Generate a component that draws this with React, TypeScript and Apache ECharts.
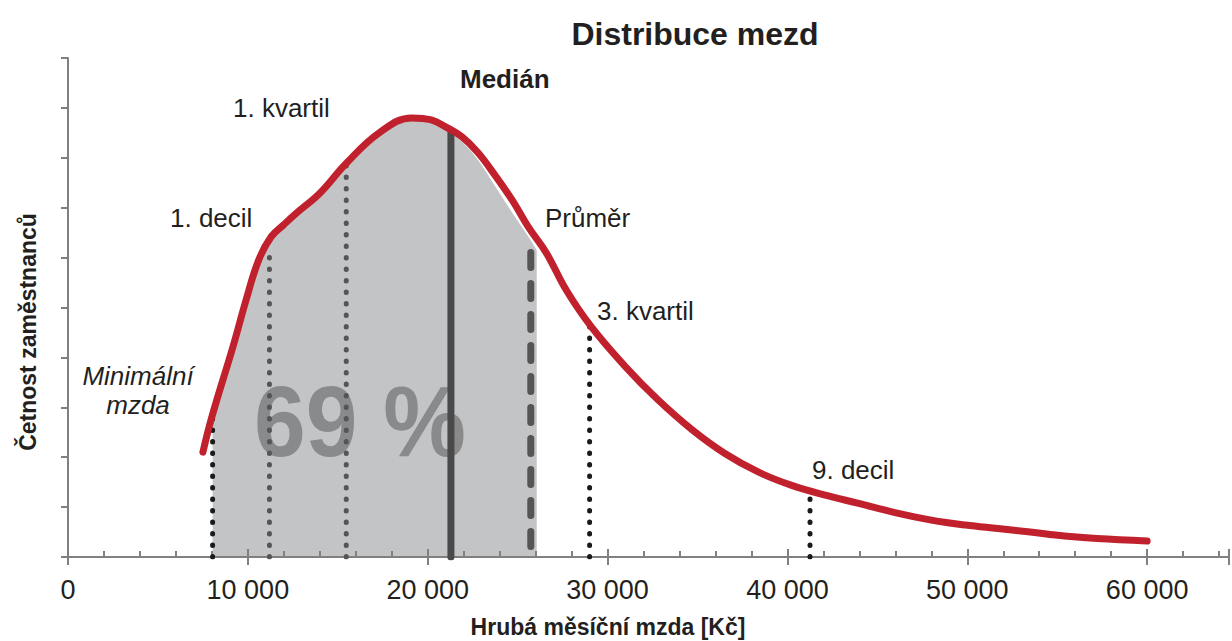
import React, { useEffect, useRef } from "react";
import * as echarts from "echarts";

// ---- data ----
const curveX = [7500, 8000, 9200, 9900, 10600, 11300, 12000, 12700, 14000, 15500, 17300, 19100, 20200, 21000, 21900, 22800, 23800, 24700, 25600, 26600, 27700, 29100, 31000, 32800, 34700, 36500, 38400, 40200, 42100, 43900, 46100, 48000, 49900, 51700, 53500, 55400, 57200, 60000];
const curveY = [2.10, 2.81, 4.25, 5.15, 5.95, 6.42, 6.66, 6.89, 7.29, 7.90, 8.50, 8.80, 8.76, 8.62, 8.42, 8.10, 7.62, 7.15, 6.61, 6.09, 5.35, 4.61, 3.81, 3.15, 2.55, 2.08, 1.70, 1.44, 1.24, 1.08, 0.88, 0.74, 0.64, 0.57, 0.50, 0.42, 0.37, 0.32];

const fillX = [8040, 9200, 9900, 10600, 11300, 12000, 12700, 14000, 15500, 17300, 19100, 20200, 21000, 21900, 22800, 23800, 24700, 25600, 26060];
const fillY = [2.81, 4.25, 5.15, 5.95, 6.42, 6.66, 6.89, 7.29, 7.90, 8.50, 8.80, 8.76, 8.58, 8.32, 7.95, 7.40, 6.90, 6.42, 6.15];

const markerNames = ["Minimální mzda", "1. decil", "1. kvartil", "Medián", "Průměr", "3. kvartil", "9. decil"];
const markerX = [8040, 11200, 15470, 21290, 25730, 29000, 41255];
const markerTop = [2.79, 6.05, 7.9, 8.53, 6.10, 4.65, 1.18];

const xTickLabels = ["0", "10 000", "20 000", "30 000", "40 000", "50 000", "60 000"];
const shareLabel = "69 %";

const FONT = "'Liberation Sans', Arial, Helvetica, sans-serif";
const TXT = "#231f20";
const AXIS = "#808080";
const X_MAX = 64550;

function markerStyle(name: string) {
  switch (name) {
    case "Medián":
      return { color: "#4a4a4a", width: 7, type: "solid" as any, cap: "round" };
    case "Průměr":
      return { color: "#555555", width: 7, type: [15, 16], cap: "round" };
    case "1. decil":
    case "1. kvartil":
      return { color: "#555555", width: 5, type: [0.5, 11], cap: "round" };
    default:
      return { color: "#1a1a1a", width: 5, type: [0.5, 11], cap: "round" };
  }
}

export default function App() {
  const ref = useRef<HTMLDivElement>(null);
  useEffect(() => {
    if (!ref.current) return;
    const chart = echarts.init(ref.current, undefined, { renderer: "svg" });

    const baseX = { type: "value", min: 0, max: X_MAX, position: "bottom", gridIndex: 0, splitLine: { show: false }, z: 3 };

    const markerSeries = markerNames.map((n, i) => ({
      type: "line",
      name: n,
      data: n === "Průměr"
        ? [[markerX[i], markerTop[i]], [markerX[i], 0]]
        : [[markerX[i], 0], [markerX[i], markerTop[i]]],
      showSymbol: false,
      symbol: "none",
      lineStyle: markerStyle(n),
      z: 4,
      silent: true,
    }));

    const option: any = {
      animation: false,
      backgroundColor: "#ffffff",
      textStyle: { fontFamily: FONT },
      title: {
        text: "Distribuce mezd",
        left: 690,
        top: 13,
        textAlign: "center",
        textStyle: { fontFamily: FONT, fontSize: 32, fontWeight: "bold", color: TXT },
      },
      grid: { left: 68, right: 0, top: 58, bottom: 84, containLabel: false },
      xAxis: [
        {
          ...baseX,
          interval: 2000,
          axisLine: { show: true, lineStyle: { color: AXIS, width: 2 } },
          axisTick: { show: true, inside: true, length: 6, lineStyle: { color: AXIS, width: 2 } },
          axisLabel: { show: false },
        },
        {
          ...baseX,
          interval: 10000,
          axisLine: { show: false },
          axisTick: { show: true, inside: true, length: 8, lineStyle: { color: AXIS, width: 2 } },
          axisLabel: { show: false },
        },
        {
          ...baseX,
          interval: 10000,
          axisLine: { show: false },
          axisTick: { show: true, inside: false, length: 8, lineStyle: { color: AXIS, width: 2 } },
          axisLabel: {
            show: true,
            margin: 19,
            fontSize: 27,
            color: TXT,
            fontFamily: FONT,
            formatter: (v: number) => {
              if (v % 10000 !== 0) return "";
              return xTickLabels[v / 10000] ?? "";
            },
          },
        },
      ],
      yAxis: {
        type: "value",
        min: 0,
        max: 10,
        interval: 1,
        z: 3,
        axisLine: { show: true, lineStyle: { color: AXIS, width: 2 } },
        axisTick: { show: true, inside: false, length: 7, lineStyle: { color: AXIS, width: 2 } },
        axisLabel: { show: false },
        splitLine: { show: false },
      },
      series: [
        {
          type: "line",
          name: "fill",
          data: fillX.map((x, i) => [x, fillY[i]]),
          smooth: 0.4,
          showSymbol: false,
          symbol: "none",
          lineStyle: { width: 0, opacity: 0 },
          areaStyle: { color: "#c3c4c6", opacity: 1 },
          z: 1,
          silent: true,
        },
        ...markerSeries,
        {
          type: "line",
          name: "curve",
          data: curveX.map((x, i) => [x, curveY[i]]),
          smooth: 0.4,
          showSymbol: false,
          symbol: "none",
          lineStyle: { color: "#c0212c", width: 7, cap: "round", join: "round" },
          z: 5,
          silent: true,
        },
      ],
      graphic: [
        { type: "text", z: 2, x: 360, y: 421, scaleX: 0.93, style: { text: shareLabel, fill: "#898a8c", font: `bold 100px ${FONT}`, align: "center", verticalAlign: "middle" } },
        { type: "text", z: 6, x: 138, y: 376, style: { text: "Minimální", fill: TXT, font: `italic 26px ${FONT}`, align: "center", verticalAlign: "middle" } },
        { type: "text", z: 6, x: 138, y: 405, style: { text: "mzda", fill: TXT, font: `italic 26px ${FONT}`, align: "center", verticalAlign: "middle" } },
        { type: "text", z: 6, x: 170, y: 218, style: { text: "1. decil", fill: TXT, font: `26px ${FONT}`, align: "left", verticalAlign: "middle" } },
        { type: "text", z: 6, x: 233, y: 108, style: { text: "1. kvartil", fill: TXT, font: `26px ${FONT}`, align: "left", verticalAlign: "middle" } },
        { type: "text", z: 6, x: 460, y: 79, style: { text: "Medián", fill: TXT, font: `bold 26px ${FONT}`, align: "left", verticalAlign: "middle" } },
        { type: "text", z: 6, x: 545, y: 218, style: { text: "Průměr", fill: TXT, font: `26px ${FONT}`, align: "left", verticalAlign: "middle" } },
        { type: "text", z: 6, x: 597, y: 311, style: { text: "3. kvartil", fill: TXT, font: `26px ${FONT}`, align: "left", verticalAlign: "middle" } },
        { type: "text", z: 6, x: 812, y: 470, style: { text: "9. decil", fill: TXT, font: `26px ${FONT}`, align: "left", verticalAlign: "middle" } },
        { type: "text", z: 6, x: 608, y: 627, style: { text: "Hrubá měsíční mzda [Kč]", fill: TXT, font: `bold 23px ${FONT}`, align: "center", verticalAlign: "middle" } },
        { type: "text", z: 6, x: 28, y: 332, rotation: Math.PI / 2, style: { text: "Četnost zaměstnanců", fill: TXT, font: `bold 23px ${FONT}`, align: "center", verticalAlign: "middle" } },
      ],
    };
    chart.setOption(option);
    return () => chart.dispose();
  }, []);
  return (
    <div
      ref={ref}
      style={{ position: "fixed", left: 0, top: 0, width: 1232, height: 641, background: "#fff" }}
    />
  );
}
